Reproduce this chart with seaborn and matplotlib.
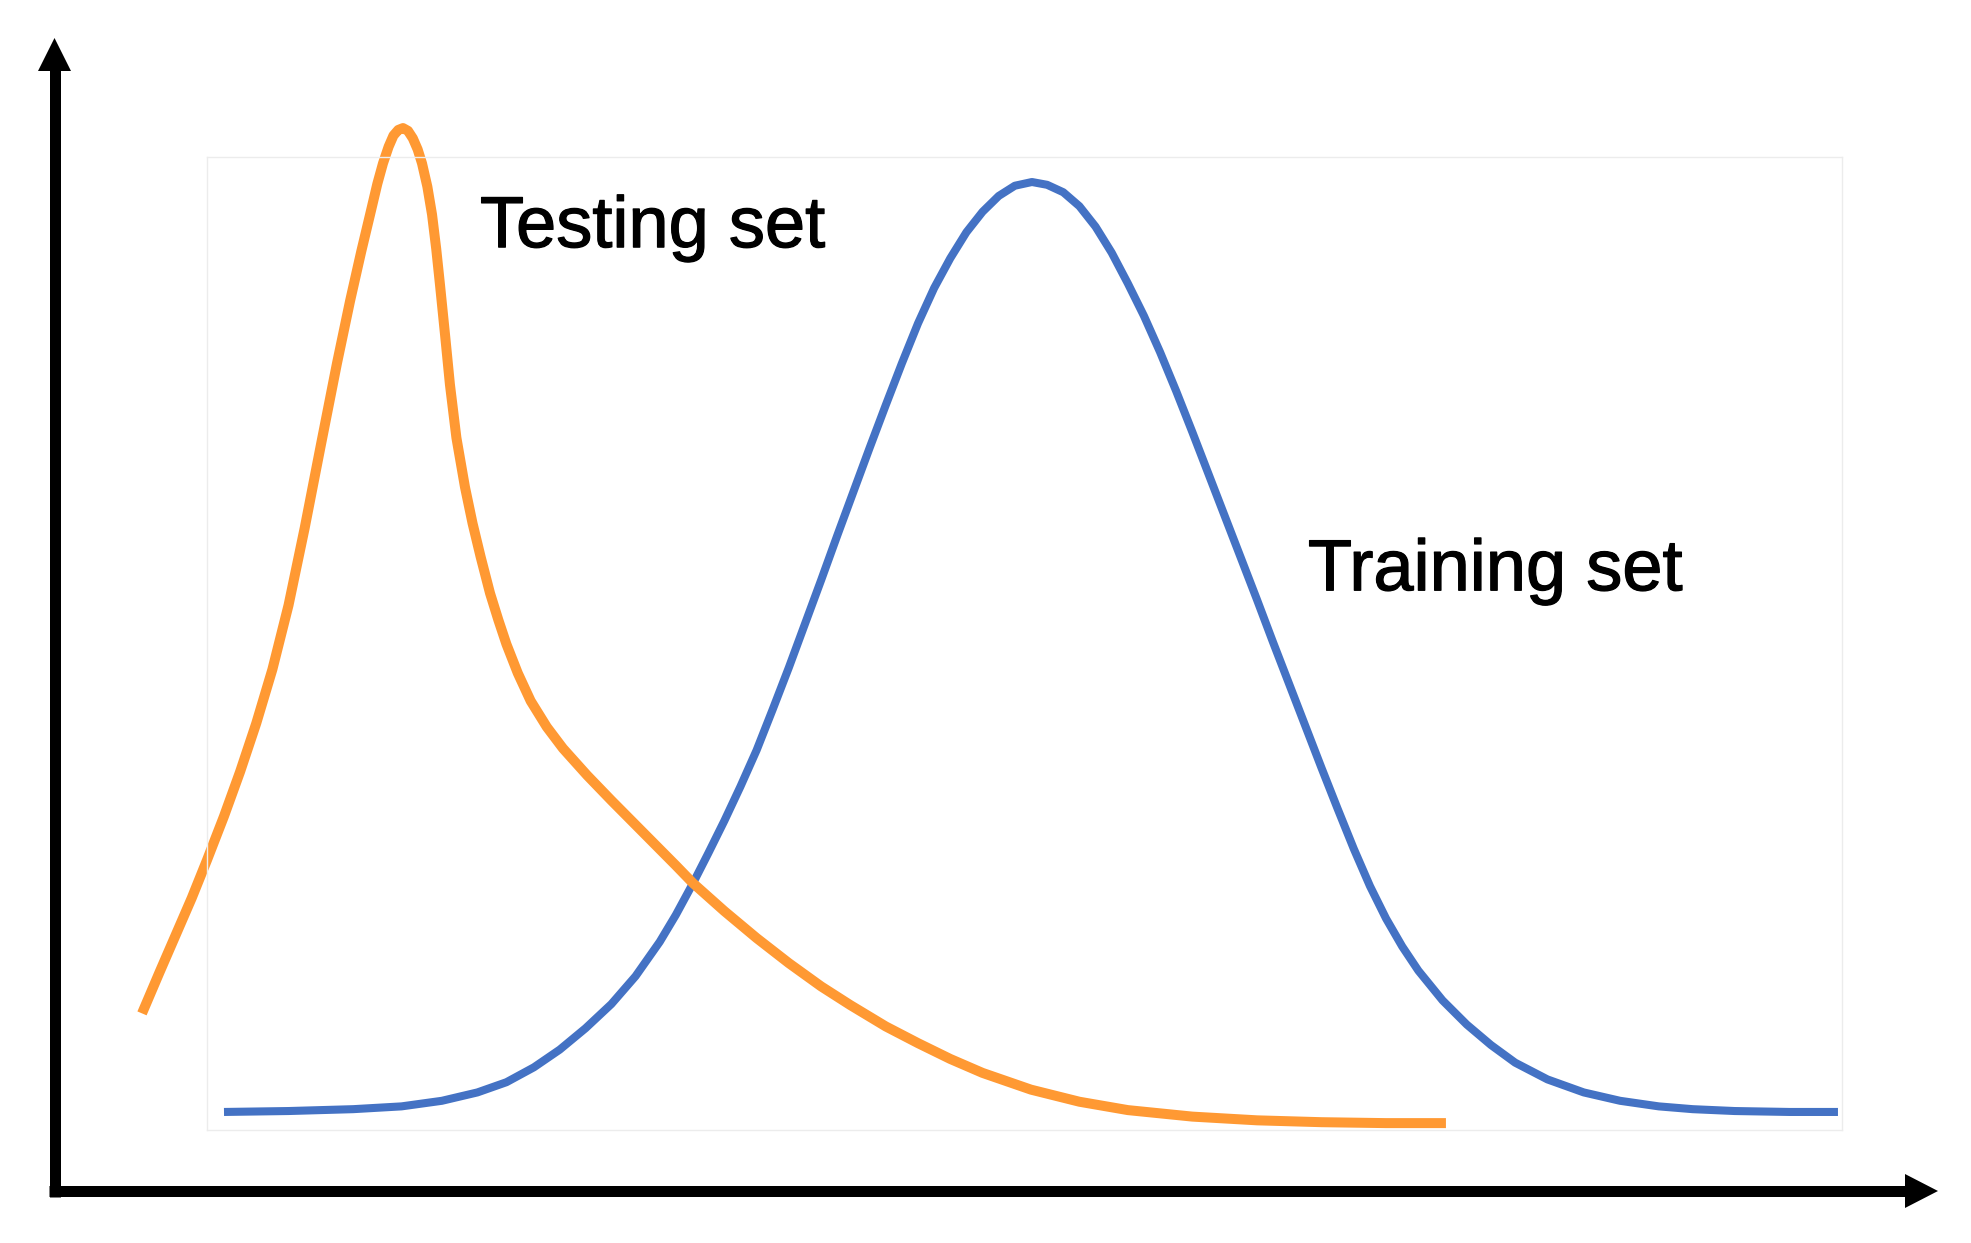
import numpy as np
import pandas as pd
import matplotlib
matplotlib.use("Agg")
import matplotlib.pyplot as plt
import matplotlib.patheffects as pe
import seaborn as sns
from matplotlib.patches import Polygon
from matplotlib.lines import Line2D

# ---- data (feature value, relative density) ----
train_x = [0.0, 4.0, 8.0, 11.0, 13.5, 15.7, 17.5, 19.2, 20.8, 22.4, 24.0, 25.5, 27.0,
           28.0, 29.06, 30.0, 31.0, 32.0, 33.0, 34.0, 35.0, 36.0, 37.0, 38.0, 39.0,
           40.0, 41.0, 42.0, 43.0, 44.0, 45.0, 46.0, 47.0, 48.0, 49.0, 50.06,
           51.0, 52.0, 53.0, 54.0, 55.0, 56.0, 57.0, 58.0, 59.0, 60.0, 61.0, 62.0,
           63.0, 64.0, 65.0, 66.0, 67.0, 68.0, 69.0, 70.0, 71.0, 72.0, 73.0, 74.0,
           75.5, 77.0, 78.5, 80.0, 82.0, 84.25, 86.5, 88.9, 91.0, 93.6, 97.0, 100.0]
train_y = [0.000, 0.001, 0.003, 0.006, 0.012, 0.021, 0.032, 0.048, 0.067, 0.090, 0.116,
           0.146, 0.183, 0.212, 0.246, 0.278, 0.313, 0.350, 0.389, 0.433, 0.478, 0.525,
           0.572, 0.620, 0.667, 0.714, 0.760, 0.805, 0.848, 0.886, 0.918, 0.946, 0.968,
           0.985, 0.996, 1.000,
           0.997, 0.989, 0.974, 0.952, 0.924, 0.891, 0.856, 0.817, 0.775, 0.731, 0.686,
           0.641, 0.596, 0.551, 0.505, 0.460, 0.415, 0.370, 0.326, 0.283, 0.243, 0.208,
           0.178, 0.152, 0.120, 0.094, 0.072, 0.053, 0.035, 0.021, 0.012, 0.006, 0.003,
           0.001, 0.000, 0.000]

test_x = [-5.08, -4.0, -3.0, -2.0, -1.05, 0.0, 1.0, 2.0, 3.0, 4.0, 5.0, 6.0, 7.0, 7.81,
          8.5, 9.05, 9.5, 9.85, 10.2, 10.5, 10.8, 11.09, 11.4, 11.7, 12.0, 12.27, 12.6,
          12.89, 13.15, 13.38, 13.7, 14.0, 14.4, 14.93, 15.4, 15.9, 16.48, 17.0, 17.5,
          18.2, 19.0, 20.0, 21.0, 22.5, 24.0, 26.0, 28.0, 29.06, 31.0, 33.0, 35.0, 37.0,
          38.8, 41.0, 43.0, 45.0, 47.0, 50.0, 53.0, 56.0, 60.0, 64.0, 68.0, 72.0, 75.71]
test_y = [0.106, 0.150, 0.190, 0.230, 0.271, 0.318, 0.366, 0.418, 0.476, 0.545, 0.628,
          0.717, 0.805, 0.872, 0.925, 0.965, 0.998, 1.020, 1.038, 1.050, 1.056, 1.058,
          1.055, 1.047, 1.035, 1.020, 0.995, 0.965, 0.928, 0.890, 0.835, 0.782, 0.725,
          0.672, 0.633, 0.597, 0.558, 0.529, 0.503, 0.472, 0.442, 0.414, 0.391, 0.362,
          0.335, 0.300, 0.265, 0.246, 0.216, 0.187, 0.160, 0.135, 0.115, 0.092, 0.074,
          0.057, 0.042, 0.024, 0.011, 0.002, -0.005, -0.009, -0.011, -0.012, -0.012]

labels = ["Testing set", "Training set"]
label_pos_x = [15.86, 67.16]
label_pos_y = [0.930, 0.561]

train_color = "#4472C4"
test_color = "#FF9933"

sns.set_theme(style="white")
plt.rcParams['font.family'] = ['Liberation Sans', 'DejaVu Sans']

W, H = 1971, 1243
fig = plt.figure(figsize=(W / 100, H / 100), dpi=100)
fig.patch.set_facecolor("white")

# faint plot-area rectangle
ax = fig.add_axes([207 / W, (H - 1130) / H, 1635 / W, 973 / H])
ax.set_facecolor("none")

df_train = pd.DataFrame({"x": train_x, "y": train_y})
df_test = pd.DataFrame({"x": test_x, "y": test_y})

sns.lineplot(data=df_train, x="x", y="y", ax=ax, color=train_color, lw=5.8,
             estimator=None, sort=False, solid_capstyle="butt", solid_joinstyle="round")
sns.lineplot(data=df_test, x="x", y="y", ax=ax, color=test_color, lw=7.2,
             estimator=None, sort=False, solid_capstyle="butt", solid_joinstyle="round")
for ln in ax.lines:
    ln.set_clip_on(False)

ax.set_xlim(-1.053, 100.25)
ax.set_ylim(-0.0194, 1.0269)
ax.set_xticks([])
ax.set_yticks([])
ax.set_xlabel("")
ax.set_ylabel("")
for sp in ax.spines.values():
    sp.set_color("#ececec")
    sp.set_linewidth(1.0)

for lab, lx, ly in zip(labels, label_pos_x, label_pos_y):
    ax.text(lx, ly, lab, fontsize=52, ha="left", va="baseline", color="black",
            family=['Liberation Sans', 'DejaVu Sans'],
            path_effects=[pe.withStroke(linewidth=0.9, foreground="black")])

# overlay in pixel space for the axis arrows
ov = fig.add_axes([0, 0, 1, 1])
ov.set_xlim(0, W)
ov.set_ylim(H, 0)
ov.axis("off")
ov.patch.set_alpha(0)
lw_arrow = 11 * 72 / 100
ov.add_line(Line2D([54.5, 54.5], [1196.5, 70], color="black", lw=lw_arrow,
                   solid_capstyle="butt"))
ov.add_patch(Polygon([[38, 71], [71, 71], [54.5, 38]], closed=True, color="black", lw=0))
ov.add_line(Line2D([49, 1906], [1191, 1191], color="black", lw=lw_arrow,
                   solid_capstyle="butt"))
ov.add_patch(Polygon([[1905, 1174], [1905, 1208], [1938, 1191]], closed=True,
                     color="black", lw=0))

fig.savefig("out.png", dpi=100, facecolor="white")
